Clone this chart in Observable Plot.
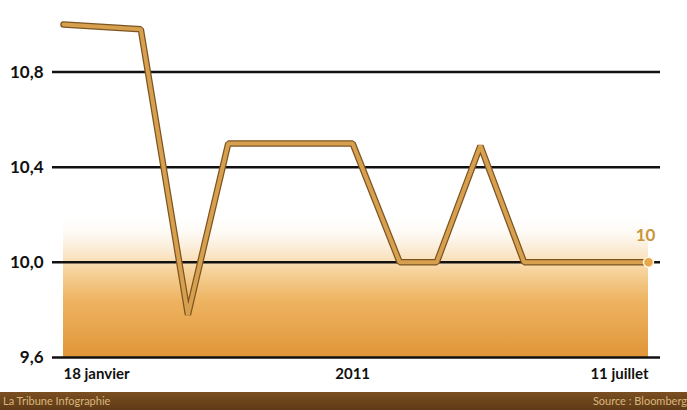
<!DOCTYPE html>
<html>
<head>
<meta charset="utf-8">
<script src="https://cdn.jsdelivr.net/npm/d3@7"></script>
<script src="https://cdn.jsdelivr.net/npm/@observablehq/plot@0.6"></script>
<style>
  html, body { margin: 0; padding: 0; background: #fff; }
  #wrap { width: 687px; height: 410px; position: relative; overflow: hidden; }
  #footer { position: absolute; left: 0; top: 392px; width: 687px; height: 18px;
    background: linear-gradient(180deg, #7a4f22, #5e3a16);
    font-family: Lato, sans-serif;
    font-size: 11px; color: #d9b57c; line-height: 18px; }
  #footer .l { position: absolute; left: 3px; }
  #footer .r { position: absolute; right: 0px; }
</style>
</head>
<body>
<div id="wrap">
  <div id="chart"></div>
  <div id="footer"><span class="l">La Tribune Infographie</span><span class="r">Source : Bloomberg</span></div>
</div>
<script>
const dates = ["2011-01-18","2011-02-10","2011-02-24","2011-03-08","2011-04-14","2011-04-28","2011-05-09","2011-05-22","2011-06-04","2011-07-11"];
const values = [11.0, 10.98, 9.78, 10.5, 10.5, 10.0, 10.0, 10.49, 10.0, 10.0];
const yTicks = [9.6, 10.0, 10.4, 10.8];
const xLabelDates = ["2011-01-18", "2011-04-14", "2011-07-11"];
const xLabelTexts = ["18 janvier", "2011", "11 juillet"];
const lastLabel = "10";
const bandTop = 10.2;

const parse = d3.utcParse("%Y-%m-%d");
const data = dates.map((d, i) => ({date: parse(d), value: values[i]}));
const labels = xLabelDates.map((d, i) => ({date: parse(d), text: xLabelTexts[i]}));
const last = data[data.length - 1];
const band = [{x1: data[0].date, x2: last.date, y1: 9.6, y2: bandTop}];
const font = 'Lato, sans-serif';

const xLab = (i, anchor) => Plot.text([labels[i]], {
  x: "date", y: 9.6, text: "text", textAnchor: anchor, dy: 17,
  fontSize: 15, fontWeight: "bold", fill: "#111"
});

const chart = Plot.plot({
  width: 687,
  height: 392,
  marginLeft: 52,
  marginRight: 27,
  marginTop: 24,
  marginBottom: 35,
  style: {fontFamily: font, background: "transparent"},
  x: {type: "utc", domain: [data[0].date, last.date], insetLeft: 11, insetRight: 12, axis: null},
  y: {domain: [9.6, 11.0], axis: null},
  marks: [
    Plot.rect(band, {x1: "x1", x2: "x2", y1: "y1", y2: "y2", fill: "url(#bandGrad)"}),
    Plot.ruleY(yTicks, {stroke: "#111", strokeWidth: 2.5}),
    Plot.text(yTicks, {
      x: data[0].date, y: d => d, dx: -20, text: d => d.toFixed(1).replace(".", ","),
      textAnchor: "end", fontSize: 17, fontWeight: "bold", fill: "#111", letterSpacing: "-0.5px"
    }),
    Plot.line(data, {x: "date", y: "value", stroke: "#7d5421", strokeWidth: 6.5, strokeLinejoin: "miter", strokeLinecap: "round"}),
    Plot.line(data, {x: "date", y: "value", stroke: "#d6a04f", strokeWidth: 4, strokeLinejoin: "miter", strokeLinecap: "round"}),
    Plot.dot([last], {x: "date", y: "value", r: 5, fill: "#e8a84a", stroke: "#fff6e6", strokeWidth: 1.5}),
    Plot.text([last], {x: "date", y: "value", text: () => lastLabel, dy: -27, dx: -3, fontSize: 17, fontWeight: "bold", fill: "#c9963f"}),
    xLab(0, "start"),
    xLab(1, "middle"),
    xLab(2, "end")
  ]
});

const svg = d3.select(chart);
const defs = svg.insert("defs", ":first-child");
const g = defs.append("linearGradient").attr("id", "bandGrad").attr("x1", 0).attr("y1", 0).attr("x2", 0).attr("y2", 1);
[[0, "#ffffff", 0], [0.2, "#fbeedb", 0.8], [0.4, "#f6d29a", 1], [0.6, "#eeb462", 1], [1, "#e09538", 1]]
  .forEach(([o, c, a]) => g.append("stop").attr("offset", o).attr("stop-color", c).attr("stop-opacity", a));
document.getElementById("chart").appendChild(chart);
</script>
</body>
</html>
